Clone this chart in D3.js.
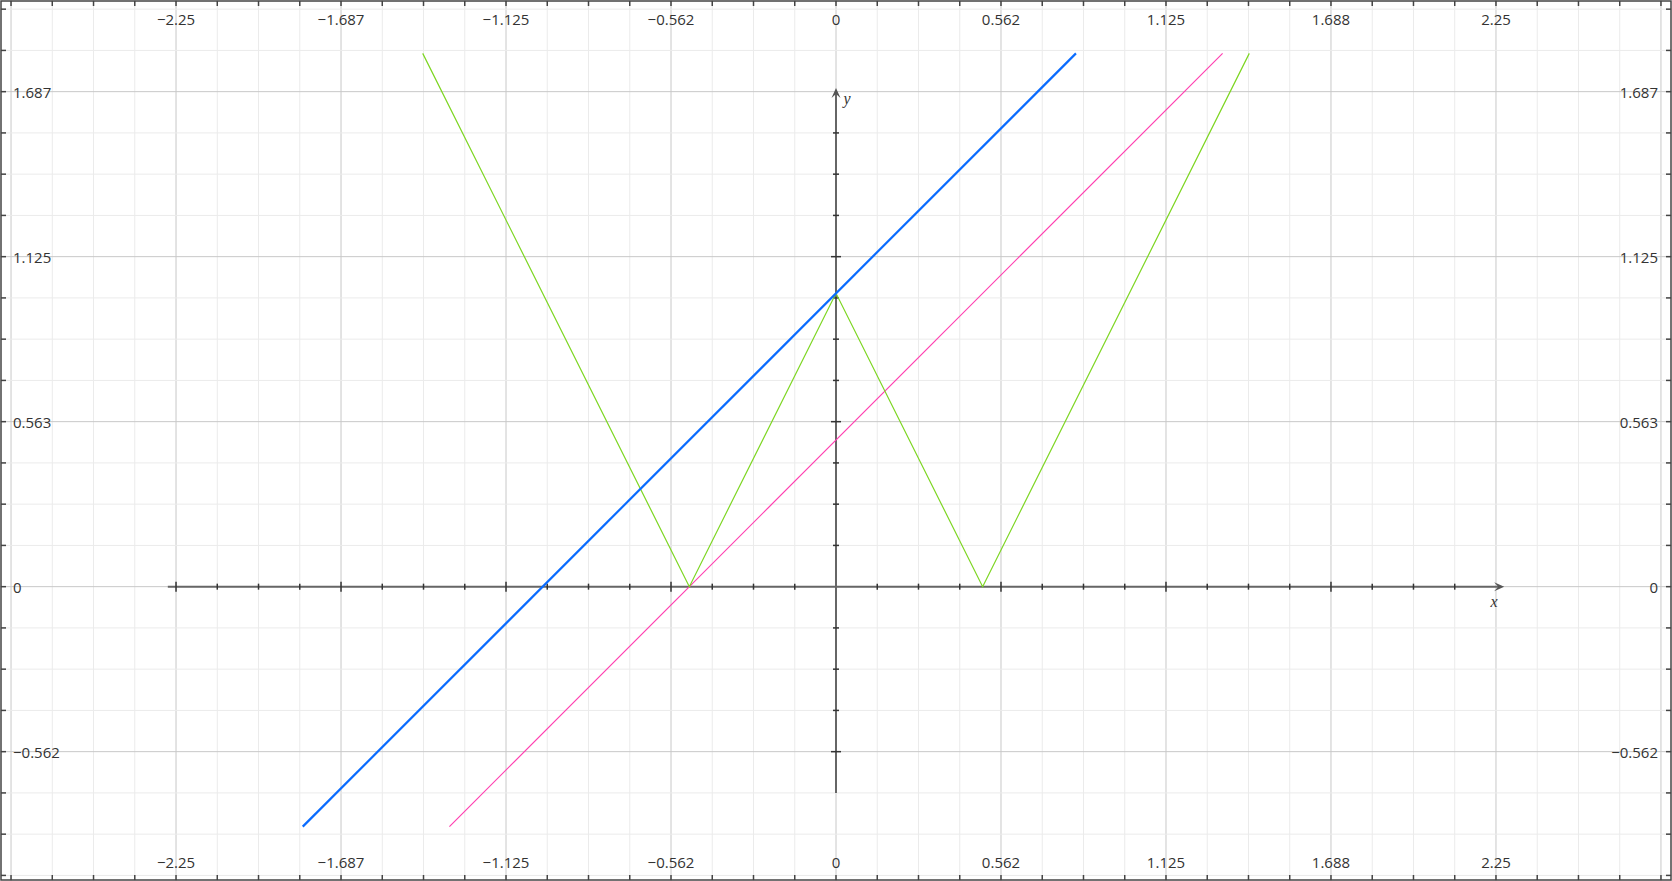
<!DOCTYPE html>
<html>
<head>
<meta charset="utf-8">
<script src="https://cdn.jsdelivr.net/npm/d3@7"></script>
<style>
  html, body { margin: 0; padding: 0; background: #fff; }
  svg { display: block; }
  .lbl { font-family: "Open Sans", "DejaVu Sans", sans-serif; font-size: 15px; fill: #333; }
  .axname { font-family: "Liberation Serif", "DejaVu Serif", serif; font-style: italic; font-size: 16px; fill: #333; }
</style>
</head>
<body>
<script>
// ---- data ----
const xTickValues = [-2.25, -1.6875, -1.125, -0.5625, 0, 0.5625, 1.125, 1.6875, 2.25];
const xTickLabels = ["\u22122.25", "\u22121.687", "\u22121.125", "\u22120.562", "0", "0.562", "1.125", "1.688", "2.25"];
const yTickValues = [-0.5625, 0, 0.5625, 1.125, 1.6875];
const yTickLabels = ["\u22120.562", "0", "0.563", "1.125", "1.687"];
const minorStep = 0.140625;
const xAxisExtent = [-2.278, 2.278];
const yAxisExtent = [-0.703, 1.70];
// series: y = x + 1 (blue), y = x + 0.5 (pink), y = |2|x| - 1| (green)
const blueLine = [[-1.818, -0.818], [0.818, 1.818]];
const pinkLine = [[-1.318, -0.818], [1.318, 1.818]];
const greenLine = [[-1.409, 1.818], [-0.5, 0], [0, 1], [0.5, 0], [1.409, 1.818]];

// ---- layout ----
const W = 1672, H = 881;
const svg = d3.select("body").append("svg").attr("width", W).attr("height", H);
const x = d3.scaleLinear().domain([-2.845, 2.845]).range([1.5, 1670.5]);
const y = d3.scaleLinear().domain([-1, 2]).range([880, 0]);

const xMinor = d3.range(-20, 21).map(k => k * minorStep);
const yMinor = d3.range(-7, 15).map(k => k * minorStep);
const isMajor = v => Math.abs(Math.round(v / 0.5625) * 0.5625 - v) < 1e-9;

// gridlines
const grid = svg.append("g");
grid.selectAll(".gx").data(xMinor).enter().append("line")
  .attr("x1", d => x(d)).attr("x2", d => x(d)).attr("y1", 0).attr("y2", H)
  .attr("stroke", d => isMajor(d) ? "#c8c8c8" : "#ebebeb").attr("stroke-width", 1);
grid.selectAll(".gy").data(yMinor).enter().append("line")
  .attr("y1", d => y(d)).attr("y2", d => y(d)).attr("x1", 0).attr("x2", W)
  .attr("stroke", d => isMajor(d) ? "#c8c8c8" : "#ebebeb").attr("stroke-width", 1);

// frame
svg.append("rect").attr("x", 1).attr("y", 1).attr("width", W - 2).attr("height", H - 2)
  .attr("fill", "none").attr("stroke", "#444").attr("stroke-width", 1.5);
const fr = svg.append("g").attr("stroke", "#444").attr("stroke-width", 1.5);
xMinor.forEach(v => {
  fr.append("line").attr("x1", x(v)).attr("x2", x(v)).attr("y1", 1).attr("y2", 6);
  fr.append("line").attr("x1", x(v)).attr("x2", x(v)).attr("y1", H - 6).attr("y2", H - 1);
});
yMinor.forEach(v => {
  fr.append("line").attr("y1", y(v)).attr("y2", y(v)).attr("x1", 1).attr("x2", 6);
  fr.append("line").attr("y1", y(v)).attr("y2", y(v)).attr("x1", W - 6).attr("x2", W - 1);
});

// tick labels
const lab = svg.append("g");
xTickValues.forEach((v, i) => {
  lab.append("text").attr("class", "lbl").attr("x", x(v)).attr("y", 19)
    .attr("text-anchor", "middle").attr("dominant-baseline", "central").text(xTickLabels[i]);
  lab.append("text").attr("class", "lbl").attr("x", x(v)).attr("y", 862)
    .attr("text-anchor", "middle").attr("dominant-baseline", "central").text(xTickLabels[i]);
});
yTickValues.forEach((v, i) => {
  lab.append("text").attr("class", "lbl").attr("x", 13).attr("y", y(v))
    .attr("text-anchor", "start").attr("dominant-baseline", "central").text(yTickLabels[i]);
  lab.append("text").attr("class", "lbl").attr("x", 1658).attr("y", y(v))
    .attr("text-anchor", "end").attr("dominant-baseline", "central").text(yTickLabels[i]);
});

// axes
const ax = svg.append("g");
ax.append("line").attr("x1", x(xAxisExtent[0])).attr("x2", x(xAxisExtent[1]) - 3)
  .attr("y1", y(0)).attr("y2", y(0)).attr("stroke", "#666").attr("stroke-width", 2);
ax.append("line").attr("y1", y(yAxisExtent[0])).attr("y2", y(yAxisExtent[1]) + 3)
  .attr("x1", x(0)).attr("x2", x(0)).attr("stroke", "#666").attr("stroke-width", 2);
// arrowheads
const xt = x(xAxisExtent[1]), yt = y(yAxisExtent[1]);
ax.append("path").attr("d", `M${xt},${y(0)} L${xt - 10},${y(0) - 4.5} L${xt - 6},${y(0)} L${xt - 10},${y(0) + 4.5} Z`)
  .attr("fill", "#555");
ax.append("path").attr("d", `M${x(0)},${yt} L${x(0) - 4.5},${yt + 10} L${x(0)},${yt + 6} L${x(0) + 4.5},${yt + 10} Z`)
  .attr("fill", "#555");
// axis ticks
const axt = svg.append("g").attr("stroke", "#333").attr("stroke-width", 1.5);
xMinor.filter(v => v > xAxisExtent[0] && v < xAxisExtent[1] - 0.05 && Math.abs(v) > 1e-9).forEach(v => {
  const L = isMajor(v) ? 5 : 3;
  axt.append("line").attr("x1", x(v)).attr("x2", x(v)).attr("y1", y(0) - L).attr("y2", y(0) + L);
});
yMinor.filter(v => v >= yAxisExtent[0] - 1e-9 && v < yAxisExtent[1] - 0.05 && Math.abs(v) > 1e-9).forEach(v => {
  const L = isMajor(v) ? 5 : 3;
  axt.append("line").attr("y1", y(v)).attr("y2", y(v)).attr("x1", x(0) - L).attr("x2", x(0) + L);
});
svg.append("text").attr("class", "axname").attr("x", 1494).attr("y", 607).attr("text-anchor", "middle").text("x");
svg.append("text").attr("class", "axname").attr("x", 847).attr("y", 104).attr("text-anchor", "middle").text("y");

// series
const line = d3.line().x(d => x(d[0])).y(d => y(d[1]));
svg.append("path").datum(pinkLine).attr("d", line).attr("fill", "none")
  .attr("stroke", "#ff3fb0").attr("stroke-width", 1.2);
svg.append("path").datum(greenLine).attr("d", line).attr("fill", "none")
  .attr("stroke", "#7dd622").attr("stroke-width", 1.2);
svg.append("path").datum(blueLine).attr("d", line).attr("fill", "none")
  .attr("stroke", "#0a6cff").attr("stroke-width", 2.2);
</script>
</body>
</html>
